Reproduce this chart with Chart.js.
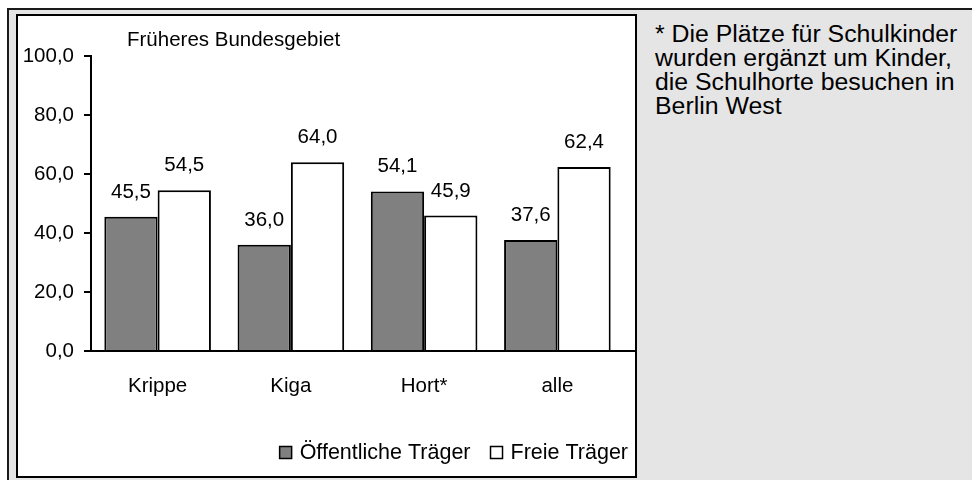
<!DOCTYPE html>
<html>
<head>
<meta charset="utf-8">
<script src="https://cdn.jsdelivr.net/npm/chart.js@4.4.1/dist/chart.umd.min.js"></script>
<style>
  body { margin: 0; background: #fff; }
  #frame { position: absolute; left: 7px; top: 8px; width: 965px; height: 472px;
    border-left: 2px solid #1a1a1a; border-top: 2px solid #1a1a1a; background: #e5e5e5; }
  #box { position: absolute; left: 16px; top: 14px; width: 617px; height: 460px;
    border: 2px solid #000; background: #fff; overflow: hidden; }
  #note { position: absolute; left: 655px; top: 22px; color: #000;
    font: 23px/24px 'Liberation Sans', Arial, sans-serif; white-space: nowrap;
    transform: scaleX(1.08); transform-origin: left top; }
</style>
</head>
<body>
<div id="frame"></div>
<div id="box"><canvas id="chart" width="617" height="460"></canvas></div>
<div id="note">* Die Plätze für Schulkinder<br>wurden ergänzt um Kinder,<br>die Schulhorte besuchen in<br>Berlin West</div>
<script>
var categories = ['Krippe', 'Kiga', 'Hort*', 'alle'];
var oeffentlich = [45.5, 36.0, 54.1, 37.6];
var freie = [54.5, 64.0, 45.9, 62.4];
var seriesNames = ['Öffentliche Träger', 'Freie Träger'];
var yMin = 0, yMax = 100, yStep = 20;
var chartTitle = 'Früheres Bundesgebiet';

function fmt(v) {
	return Number(v).toFixed(1).replace('.', ',');
}

Chart.defaults.font.family = "'Liberation Sans', Arial, sans-serif";
Chart.defaults.font.size = 20.5;
Chart.defaults.color = '#000';

// labels over bars, title, legend and the axis stub on the right
var extras = {
	id: 'extras',
	afterDatasetsDraw: function(chart) {
		var ctx = chart.ctx;
		ctx.save();
		ctx.font = "20.5px 'Liberation Sans', Arial, sans-serif";
		ctx.fillStyle = '#000';
		ctx.textAlign = 'center';
		ctx.textBaseline = 'alphabetic';
		chart.data.datasets.forEach(function(ds, i) {
			chart.getDatasetMeta(i).data.forEach(function(bar, j) {
				ctx.fillText(fmt(ds.data[j]), bar.x, bar.y - 19);
			});
		});
		ctx.restore();
	},
	afterDraw: function(chart) {
		var ctx = chart.ctx;
		var area = chart.chartArea;
		ctx.save();
		ctx.font = "20.5px 'Liberation Sans', Arial, sans-serif";
		ctx.fillStyle = '#000';
		ctx.textBaseline = 'alphabetic';
		ctx.textAlign = 'left';
		ctx.fillText(chartTitle, area.left + 36, 30);

		// x axis line runs on a bit past the plot
		var y0 = chart.scales.y.getPixelForValue(0);
		ctx.strokeStyle = '#000';
		ctx.lineWidth = 2;
		ctx.beginPath();
		ctx.moveTo(area.right, y0);
		ctx.lineTo(chart.width, y0);
		ctx.stroke();

		// legend, right aligned
		ctx.font = "21.5px 'Liberation Sans', Arial, sans-serif";
		var x = chart.width - 7;
		var base = 443;
		for (var i = chart.data.datasets.length - 1; i >= 0; i--) {
			var ds = chart.data.datasets[i];
			var w = ctx.measureText(ds.label).width;
			x -= w;
			ctx.fillStyle = '#000';
			ctx.fillText(ds.label, x, base);
			x -= 8 + 12;
			ctx.fillStyle = ds.backgroundColor;
			ctx.fillRect(x, base - 12.5, 12, 12);
			ctx.lineWidth = 1.5;
			ctx.strokeRect(x, base - 12.5, 12, 12);
			x -= 20;
		}
		ctx.restore();
	}
};

var ctx = document.getElementById('chart').getContext('2d');
var myChart = new Chart(ctx, {
	type: 'bar',
	data: {
		labels: categories,
		datasets: [
			{
				label: seriesNames[0],
				data: oeffentlich,
				backgroundColor: '#808080',
				borderColor: '#000',
				borderWidth: 2
			},
			{
				label: seriesNames[1],
				data: freie,
				backgroundColor: '#ffffff',
				borderColor: '#000',
				borderWidth: 2
			}
		]
	},
	options: {
		responsive: false,
		animation: false,
		layout: { padding: { top: 40, right: 11, bottom: 0, left: 0 } },
		datasets: { bar: { categoryPercentage: 0.8, barPercentage: 1.0 } },
		plugins: {
			legend: { display: false },
			title: { display: false },
			tooltip: { enabled: false }
		},
		scales: {
			x: {
				grid: { display: false, drawTicks: false },
				border: { display: true, color: '#000', width: 2 },
				ticks: { padding: 23, color: '#000' },
				afterFit: function(s) { s.height = 125; }
			},
			y: {
				min: yMin,
				max: yMax,
				ticks: { stepSize: yStep, padding: 10, color: '#000', callback: function(v) { return fmt(v); } },
				grid: { drawOnChartArea: false, drawTicks: true, tickLength: 7, color: '#000', lineWidth: 2 },
				border: { display: true, color: '#000', width: 2 },
				afterFit: function(s) { s.width = 73; }
			}
		}
	},
	plugins: [extras]
});
</script>
</body>
</html>
